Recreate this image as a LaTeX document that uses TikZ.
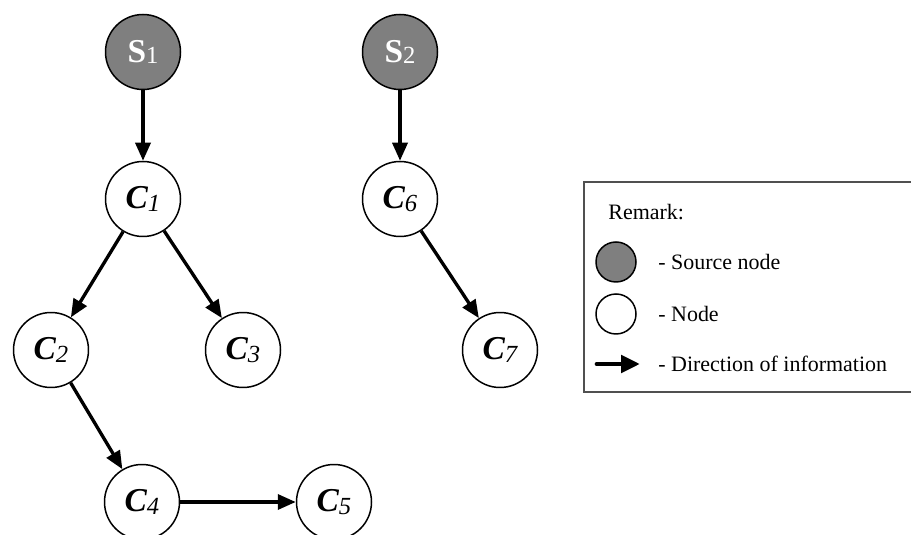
\documentclass[tikz,border=0pt]{standalone}
\usepackage{fontspec}
\setmainfont{Liberation Serif}
\usepackage{tikz}
\usetikzlibrary{arrows.meta, positioning}
\definecolor{srcgray}{RGB}{127,127,127}
\definecolor{boxgray}{RGB}{80,80,80}
\tikzset{
    srcnode/.style={draw, circle, fill=srcgray, line width=0.85pt, minimum size=1.5cm, inner sep=0pt, text=white},
    cnode/.style={draw, circle, fill=white, line width=0.85pt, minimum size=1.5cm, inner sep=0pt},
    infoG/.style={-{Triangle[length=0.36cm, width=0.3cm]}, line width=1.9pt},
    remarktext/.style={anchor=west, inner sep=0pt, font=\fontsize{12.5}{15}\selectfont}
}
\newcommand{\cname}[1]{{\fontsize{19}{21}\selectfont\bfseries\itshape C}{\fontsize{14}{15}\selectfont\itshape\raisebox{-0.3ex}{#1}}}
\newcommand{\sname}[1]{{\fontsize{19}{21}\selectfont\bfseries S}{\fontsize{14}{15}\selectfont\raisebox{-0.15ex}{#1}}}

\begin{document}
\begin{tikzpicture}
    \useasboundingbox (0,0) rectangle (18.22,10.68);
    \clip (0,0) rectangle (18.22,10.68);
    % first tree
    \node[srcnode] (s1) at (2.86, 9.64) {\sname{1}};
    \node[cnode] (c1) at (2.86, 6.70) {\cname{1}};
    \node[cnode] (c2) at (1.02, 3.68) {\cname{2}};
    \node[cnode] (c3) at (4.86, 3.68) {\cname{3}};
    \node[cnode] (c4) at (2.84, 0.64) {\cname{4}};
    \node[cnode] (c5) at (6.68, 0.64) {\cname{5}};
    % second tree
    \node[srcnode] (s2) at (8.00, 9.64) {\sname{2}};
    \node[cnode] (c6) at (8.00, 6.70) {\cname{6}};
    \node[cnode] (c7) at (10.00, 3.68) {\cname{7}};
    \draw[infoG] (s1) -- (c1);
    \draw[infoG] (c1) -- (c2);
    \draw[infoG] (c1) -- (c3);
    \draw[infoG] (c2) -- (c4);
    \draw[infoG] (c4) -- (c5);
    \draw[infoG] (s2) -- (c6);
    \draw[infoG] (c6) -- (c7);
    % remark box
    \draw[boxgray, line width=1.1pt] (18.6, 7.04) -- (11.68, 7.04) -- (11.68, 2.84) -- (18.6, 2.84);
    \node[remarktext] (rem) at (12.16, 6.44) {Remark:};
    \node[srcnode, minimum size=0.8cm] (ksrc) at (12.32, 5.44) {};
    \node[cnode, minimum size=0.8cm] (knode) at (12.32, 4.40) {};
    \coordinate (karr1) at (11.94, 3.40);
    \coordinate (karr2) at (12.80, 3.40);
    \draw[line width=2.7pt, line cap=round, -{Triangle[length=0.38cm, width=0.34cm]}] (karr1) -- (karr2);
    \node[remarktext] (tsrc) at (13.16, 5.44) {- Source node};
    \node[remarktext] (tnode) at (13.16, 4.40) {- Node};
    \node[remarktext] (tarr) at (13.16, 3.40) {- Direction of information};
\end{tikzpicture}
\end{document}
